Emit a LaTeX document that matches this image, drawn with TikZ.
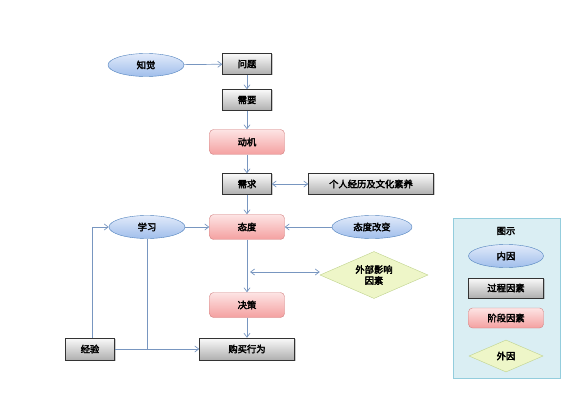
\documentclass[tikz,border=0pt]{standalone}
\usepackage{fontspec}
\newfontfamily\cjk[AutoFakeBold=3]{Noto Sans CJK SC}
\usetikzlibrary{shapes.geometric,shadows,arrows.meta}
\definecolor{lc}{RGB}{120,150,192}
\definecolor{ebd}{RGB}{79,129,189}
\definecolor{etop}{RGB}{225,234,250}
\definecolor{ebot}{RGB}{160,190,235}
\definecolor{gtop}{RGB}{250,250,250}
\definecolor{gbot}{RGB}{175,175,175}
\definecolor{ptop}{RGB}{253,228,228}
\definecolor{pbot}{RGB}{244,160,160}
\definecolor{pbd}{RGB}{210,130,130}
\definecolor{dfill}{RGB}{238,246,200}
\definecolor{dbd}{RGB}{190,210,140}
\definecolor{legfill}{RGB}{218,238,243}
\definecolor{legbd}{RGB}{147,205,221}
\tikzset{
  base/.style={font=\cjk\bfseries\fontsize{9.3}{11}\selectfont, inner sep=0pt, align=center},
  inner/.style={base, ellipse, draw=ebd, top color=etop, bottom color=ebot, minimum width=76pt, minimum height=23pt},
  proc/.style={base, rectangle, draw=black!80, top color=gtop, bottom color=gbot, minimum height=21pt, drop shadow={shadow xshift=1pt,shadow yshift=-1pt,opacity=0.4}},
  stage/.style={base, rectangle, rounded corners=4pt, draw=pbd, top color=ptop, bottom color=pbot, minimum width=75pt, minimum height=25pt},
  outer/.style={base, diamond, draw=dbd, fill=dfill, aspect=2.3, inner sep=1pt},
  conn/.style={draw=lc, line width=0.7pt, -{Straight Barb[length=4pt,width=6pt]}},
  biconn/.style={draw=lc, line width=0.7pt, {Straight Barb[length=4pt,width=6pt]}-{Straight Barb[length=4pt,width=6pt]}},
  plain/.style={draw=lc, line width=0.7pt}
}
\begin{document}
\begin{tikzpicture}[x=1pt,y=-1pt]
\useasboundingbox (0,0) rectangle (587,401);
% legend background
\node[draw=legbd, fill=legfill, minimum width=107pt, minimum height=160pt, inner sep=0pt, drop shadow={shadow xshift=1pt,shadow yshift=-1pt,opacity=0.25}] (leg) at (506.5,298) {};
\node[base] (legt) at (506,231) {图示};
\node[inner, minimum width=75pt] (lin) at (506,256) {内因};
\node[proc, minimum width=75pt, minimum height=20pt] (lproc) at (506,288) {过程因素};
\node[stage, minimum height=20pt] (lstage) at (506,318) {阶段因素};
\node[outer, minimum width=74pt, minimum height=32pt] (lout) at (506,356) {外因};

% main nodes
\node[inner] (zj) at (146,65) {知觉};
\node[proc, minimum width=49pt] (wt) at (247,64) {问题};
\node[proc, minimum width=49pt] (xy) at (247,100) {需要};
\node[stage] (dj) at (247,142) {动机};
\node[proc, minimum width=49pt] (xq) at (247,184) {需求};
\node[proc, minimum width=125pt] (gr) at (371,184) {个人经历及文化素养};
\node[stage] (td) at (247,227) {态度};
\node[inner] (xx) at (147,227) {学习};
\node[inner, minimum width=80pt] (tdgb) at (372,227) {态度改变};
\node[outer, minimum width=108pt, minimum height=47pt] (wb) at (374,275) {外部影响\\因素};
\node[stage] (jc) at (247,305) {决策};
\node[proc, minimum width=95pt, minimum height=22pt] (gm) at (247,349) {购买行为};
\node[proc, minimum width=49pt, minimum height=22pt] (jy) at (90,349) {经验};
\coordinate (wbj) at (247,272);
\coordinate (jyup) at (92,227);
\coordinate (xxd) at (xx.south |- gm.west);

% connectors
\draw[conn] (zj) -- (wt);
\draw[conn] (wt) -- (xy);
\draw[conn] (xy) -- (dj);
\draw[conn] (dj) -- (xq);
\draw[conn] (xq) -- (td);
\draw[conn] (td) -- (jc);
\draw[conn] (jc) -- (gm);
\draw[biconn] (xq) -- (gr);
\draw[conn] (tdgb) -- (td);
\draw[conn] (xx) -- (td);
\draw[conn] (jy.north -| jyup) -- (jyup) -- (xx.west);
\draw[conn] (jy) -- (gm);
\draw[plain] (xx.south) -- (xxd);
\draw[biconn] ([xshift=3pt]wbj) -- (wbj -| wb.west);
\end{tikzpicture}
\end{document}
